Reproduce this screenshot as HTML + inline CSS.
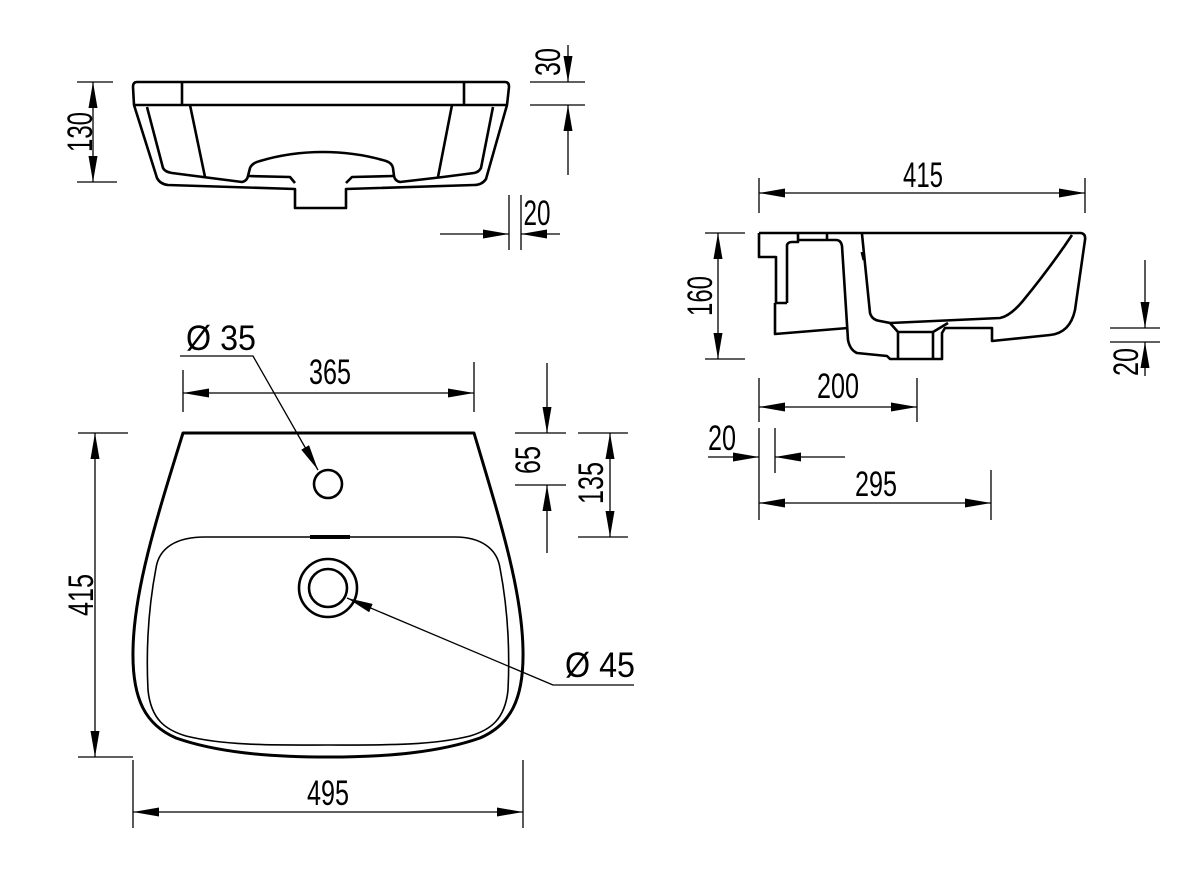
<!DOCTYPE html>
<html><head><meta charset="utf-8"><style>
html,body{margin:0;padding:0;background:#fff;}
svg{display:block;}
text{font-family:"Liberation Sans",sans-serif;font-size:35px;fill:#000;}
</style></head><body>
<svg width="1200" height="872" viewBox="0 0 1200 872" xmlns="http://www.w3.org/2000/svg">
<defs>
<marker id="a" viewBox="0 0 26 9" refX="26" refY="4.5" markerWidth="26" markerHeight="9" markerUnits="userSpaceOnUse" orient="auto-start-reverse"><path d="M0,0L26,4.5L0,9z" fill="#000"/></marker>
</defs>
<g fill="none" stroke="#000" stroke-linejoin="round">
<g stroke-width="2.6">
<path d="M137,82 L505,82 Q509,82 509,87 L507,105 L486,179 Q482,185 474,185 L346,189 L346,208 L295,208 L295,189 L168,185 Q160,184 157,178 L134,105 L133,87 Q133,82 137,82 Z"/>
<path d="M134,105 L507,105"/>
<path d="M182,82 L182,105 M464,82 L464,105"/>
<path d="M147,107 L163,168 Q165,172 172,173 L203,177 L242,182 Q247,181 248,176 L250,168 Q252,163 260,161 Q290,152 323,152 Q356,152 386,161 Q392,163 393,168 L394,176 Q395,181 400,182 L443,177 L474,173 Q479,172 481,168 L493,107"/>
<path d="M190,105 L205,177 M452,105 L438,177"/>
<path d="M248,176 L290,177 L295,183 M394,176 L352,177 L346,183"/>
</g>
<g stroke-width="2.6">
<path d="M759,233 L1081,233 Q1086,234 1085,240 L1075,310 Q1070,333 1050,335 L992,341 L992,328 L945,328 L942,333 L942,359 L890,359 L887,356 L857,353 Q850,350 848,340 L842,246 Q841,240 836,240 L827,240 L827,233"/>
<path d="M759,233 L759,257 L776,257 L776,303 L787,303"/>
<path d="M775,303 L775,334 L848,328"/>
<path d="M787,303 L787,245 Q788,242 792,242 L798,242 L798,233 M798,240 L826,240"/>
<path d="M862,234 L870,313 Q872,320 880,321 L890,323 L1000,318 Q1010,316 1022,302 Q1050,268 1072,235"/>
<path d="M890,323 L898,332 L898,359 M948,323 L933,332 L933,359 M898,332 L933,332"/>
<path d="M862,252 L864,260" stroke-width="3"/>
</g>
<path stroke-width="3" d="M183,433 L474,433 C500,520 522,590 523,650 C524,700 510,725 480,738 C440,752 390,757 328,757 C266,757 216,752 176,738 C146,725 132,700 133,650 C134,590 156,520 183,433 Z"/>
<path stroke-width="1.6" d="M205,537 L455,537 C480,537 497,548 500,568 C508,610 510,650 508,690 C505,720 490,730 470,736 C430,746 380,745 328,745 C276,745 226,746 186,736 C166,730 151,720 148,690 C146,650 148,610 156,568 C159,548 176,537 205,537 Z"/>
<path stroke-width="4" d="M310,537 L350,537"/>
<circle cx="328" cy="484" r="14" stroke-width="2.6"/>
<circle cx="328" cy="588" r="29" stroke-width="2.6"/>
<circle cx="328" cy="588" r="19" stroke-width="2.6"/>

<g stroke-width="1.3">
<path d="M77,82 L113,82 M77,182 L117,182"/>
<path d="M93,82 L93,182" marker-start="url(#a)" marker-end="url(#a)"/>
<path d="M530,82 L585,82 M530,105 L585,105"/>
<path d="M568,45 L568,82" marker-end="url(#a)"/>
<path d="M568,175 L568,105" marker-end="url(#a)"/>
<path d="M509,195 L509,250 M521,195 L521,250"/>
<path d="M440,234 L509,234" marker-end="url(#a)"/>
<path d="M560,234 L521,234" marker-end="url(#a)"/>
<path d="M759,178 L759,213 M1085,178 L1085,213"/>
<path d="M759,193 L1085,193" marker-start="url(#a)" marker-end="url(#a)"/>
<path d="M705,233 L745,233 M705,359 L745,359"/>
<path d="M718,233 L718,359" marker-start="url(#a)" marker-end="url(#a)"/>
<path d="M1110,328 L1160,328 M1110,342 L1160,342"/>
<path d="M1145,260 L1145,328" marker-end="url(#a)"/>
<path d="M1145,376 L1145,342" marker-end="url(#a)"/>
<path d="M759,378 L759,422 M917,378 L917,422"/>
<path d="M759,407 L917,407" marker-start="url(#a)" marker-end="url(#a)"/>
<path d="M759,428 L759,520 M775,428 L775,473"/>
<path d="M708,457 L759,457" marker-end="url(#a)"/>
<path d="M845,457 L775,457" marker-end="url(#a)"/>
<path d="M991,470 L991,520"/>
<path d="M759,503 L991,503" marker-start="url(#a)" marker-end="url(#a)"/>
<path d="M183,370 L183,412 M474,362 L474,412"/>
<path d="M183,393 L474,393" marker-start="url(#a)" marker-end="url(#a)"/>
<path d="M78,433 L128,433 M78,757 L133,757"/>
<path d="M95,433 L95,757" marker-start="url(#a)" marker-end="url(#a)"/>
<path d="M133,760 L133,828 M523,760 L523,828"/>
<path d="M133,812 L523,812" marker-start="url(#a)" marker-end="url(#a)"/>
<path d="M515,433 L566,433 M515,485 L566,485"/>
<path d="M547,363 L547,433" marker-end="url(#a)"/>
<path d="M547,553 L547,485" marker-end="url(#a)"/>
<path d="M578,433 L628,433 M578,537 L628,537"/>
<path d="M610,433 L610,537" marker-start="url(#a)" marker-end="url(#a)"/>
<path d="M180,356 L253,356 L318,470" marker-end="url(#a)"/>
<path d="M634,685 L553,685 L347,598" marker-end="url(#a)"/>
</g>
</g>

<text transform="translate(92,132) rotate(-90)" text-anchor="middle" textLength="40" lengthAdjust="spacingAndGlyphs">130</text>
<text transform="translate(560,62) rotate(-90)" text-anchor="middle" textLength="28" lengthAdjust="spacingAndGlyphs">30</text>
<text x="537" y="225" text-anchor="middle" textLength="27" lengthAdjust="spacingAndGlyphs">20</text>
<text x="923" y="187" text-anchor="middle" textLength="40" lengthAdjust="spacingAndGlyphs">415</text>
<text transform="translate(712,296) rotate(-90)" text-anchor="middle" textLength="40" lengthAdjust="spacingAndGlyphs">160</text>
<text transform="translate(1138,362) rotate(-90)" text-anchor="middle" textLength="28" lengthAdjust="spacingAndGlyphs">20</text>
<text x="838" y="398" text-anchor="middle" textLength="42" lengthAdjust="spacingAndGlyphs">200</text>
<text x="722" y="450" text-anchor="middle" textLength="28" lengthAdjust="spacingAndGlyphs">20</text>
<text x="876" y="496" text-anchor="middle" textLength="42" lengthAdjust="spacingAndGlyphs">295</text>
<text x="330" y="384" text-anchor="middle" textLength="42" lengthAdjust="spacingAndGlyphs">365</text>
<text x="328" y="805" text-anchor="middle" textLength="42" lengthAdjust="spacingAndGlyphs">495</text>
<text transform="translate(93,595) rotate(-90)" text-anchor="middle" textLength="42" lengthAdjust="spacingAndGlyphs">415</text>
<text transform="translate(540,460) rotate(-90)" text-anchor="middle" textLength="28" lengthAdjust="spacingAndGlyphs">65</text>
<text transform="translate(603,483) rotate(-90)" text-anchor="middle" textLength="42" lengthAdjust="spacingAndGlyphs">135</text>
<text x="186" y="350" textLength="70" lengthAdjust="spacingAndGlyphs">Ø 35</text>
<text x="565" y="677" textLength="70" lengthAdjust="spacingAndGlyphs">Ø 45</text>
</svg>
</body></html>
